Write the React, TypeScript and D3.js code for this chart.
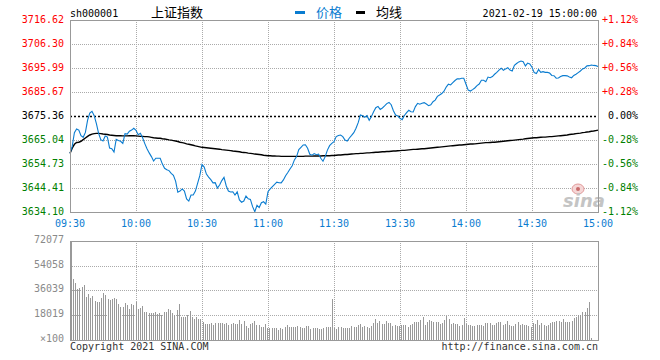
import * as d3 from 'd3';

// axis ticks
const priceTicks = [3716.62, 3706.3, 3695.99, 3685.67, 3675.36, 3665.04, 3654.73, 3644.41, 3634.1];
const pctTicks = ['+1.12%', '+0.84%', '+0.56%', '+0.28%', '0.00%', '-0.28%', '-0.56%', '-0.84%', '-1.12%'];
const timeLabels = ['09:30', '10:00', '10:30', '11:00', '11:30', '13:30', '14:00', '14:30', '15:00'];
const timeIndex = [0, 30, 60, 90, 120, 150, 180, 210, 240];
const volTickValues = [72077, 54058, 36039, 18019, 0];
const volTickLabels = ['72077', '54058', '36039', '18019', '×100'];
const prevClose = 3675.36;

// minute prices, 09:30 .. 11:30, 13:01 .. 15:00
const price = [
  3659.3, 3662.3, 3668.2, 3669.8, 3669.3, 3666.9, 3666.2, 3668.3, 3673.6, 3676.6,
  3677.4, 3675.5, 3672.1, 3667.9, 3665.2, 3664.6, 3666.8, 3666.3, 3661.6, 3661.3,
  3659.9, 3665.3, 3664.8, 3664.5, 3663.6, 3667.8, 3667.6, 3668.8, 3669.3, 3670.1,
  3669.2, 3667.3, 3667.9, 3666.0, 3663.5, 3661.3, 3659.5, 3657.9, 3656.0, 3657.2,
  3657.2, 3657.2, 3654.7, 3652.9, 3652.3, 3651.9, 3650.7, 3649.9, 3647.4, 3642.6,
  3643.1, 3644.0, 3643.1, 3639.7, 3638.8, 3641.4, 3641.4, 3643.1, 3646.4, 3649.7,
  3654.5, 3653.4, 3650.4, 3649.1, 3648.0, 3646.6, 3646.7, 3644.4, 3645.7, 3647.6,
  3649.0, 3645.4, 3643.1, 3642.7, 3642.8, 3641.4, 3642.8, 3639.3, 3638.3, 3638.8,
  3641.0, 3639.8, 3639.5, 3636.4, 3634.2, 3637.0, 3636.0, 3638.1, 3638.5, 3637.5,
  3642.8, 3644.0, 3645.0, 3646.0, 3646.9, 3646.7, 3646.6, 3647.9, 3649.7, 3651.1,
  3652.6, 3654.0, 3656.5, 3657.9, 3660.9, 3661.9, 3662.9, 3663.0, 3661.5, 3658.9,
  3658.5, 3659.2, 3658.7, 3659.0, 3657.2, 3655.9, 3657.9, 3660.7, 3662.6, 3663.6,
  3664.3, 3666.5, 3667.0, 3667.2, 3666.5, 3665.0, 3664.6, 3665.9, 3667.0, 3668.2,
  3670.1, 3672.5, 3675.8, 3675.5, 3674.8, 3675.5, 3673.5, 3675.1, 3677.2, 3678.9,
  3679.5, 3678.2, 3678.8, 3679.7, 3680.7, 3681.2, 3680.2, 3677.6, 3675.8, 3675.4,
  3674.4, 3673.8, 3675.6, 3676.8, 3677.8, 3677.2, 3677.1, 3679.4, 3680.8, 3680.4,
  3680.8, 3681.1, 3680.5, 3679.8, 3680.2, 3681.5, 3682.2, 3683.8, 3684.4, 3685.0,
  3686.0, 3687.8, 3689.0, 3688.7, 3689.7, 3690.6, 3691.3, 3691.3, 3691.6, 3691.6,
  3689.0, 3686.5, 3686.1, 3686.7, 3687.4, 3688.4, 3689.1, 3690.7, 3690.7, 3690.1,
  3692.1, 3691.8, 3692.3, 3693.3, 3694.1, 3695.1, 3695.9, 3695.0, 3695.6, 3696.1,
  3695.1, 3694.7, 3697.1, 3697.9, 3698.6, 3699.0, 3698.7, 3696.9, 3698.1, 3697.7,
  3696.3, 3694.0, 3693.6, 3695.3, 3694.1, 3694.4, 3694.1, 3694.1, 3693.8, 3692.8,
  3692.7, 3691.6, 3691.7, 3692.3, 3692.7, 3692.7, 3692.6, 3692.1, 3691.8, 3692.8,
  3693.3, 3694.0, 3694.7, 3695.6, 3696.0, 3696.9, 3697.0, 3697.3, 3697.1, 3697.0, 3696.6,
];

// average price line
const avgPrice = [
  3659.3, 3661.5, 3663.2, 3664.0, 3664.1, 3664.5, 3665.2, 3665.9, 3666.6, 3667.2,
  3667.6, 3667.8, 3667.9, 3667.9, 3667.8, 3667.6, 3667.5, 3667.4, 3667.2, 3667.1,
  3667.0, 3666.9, 3666.9, 3666.9, 3666.8, 3666.8, 3666.8, 3666.9, 3666.9, 3666.9,
  3666.8, 3666.7, 3666.6, 3666.6, 3666.5, 3666.5, 3666.4, 3666.2, 3666.0, 3665.9,
  3665.8, 3665.8, 3665.6, 3665.5, 3665.3, 3665.1, 3665.0, 3664.8, 3664.6, 3664.4,
  3664.1, 3663.9, 3663.7, 3663.4, 3663.2, 3663.0, 3662.8, 3662.5, 3662.3, 3662.1,
  3661.9, 3661.8, 3661.7, 3661.6, 3661.5, 3661.4, 3661.3, 3661.2, 3661.1, 3660.9,
  3660.8, 3660.7, 3660.6, 3660.5, 3660.3, 3660.2, 3660.1, 3660.0, 3659.8, 3659.7,
  3659.6, 3659.4, 3659.3, 3659.2, 3659.0, 3658.9, 3658.8, 3658.7, 3658.5, 3658.4,
  3658.3, 3658.3, 3658.2, 3658.2, 3658.1, 3658.1, 3658.0, 3658.0, 3658.0, 3658.0,
  3658.0, 3658.0, 3658.0, 3658.0, 3658.0, 3658.0, 3658.0, 3658.1, 3658.1, 3658.1,
  3658.1, 3658.2, 3658.2, 3658.2, 3658.2, 3658.3, 3658.3, 3658.3, 3658.3, 3658.4,
  3658.4, 3658.5, 3658.6, 3658.6, 3658.7, 3658.8, 3658.8, 3658.9, 3659.0, 3659.1,
  3659.2, 3659.2, 3659.3, 3659.3, 3659.4, 3659.5, 3659.5, 3659.6, 3659.7, 3659.8,
  3659.8, 3659.9, 3660.0, 3660.0, 3660.1, 3660.1, 3660.2, 3660.3, 3660.3, 3660.4,
  3660.5, 3660.6, 3660.6, 3660.7, 3660.8, 3660.9, 3661.0, 3661.0, 3661.1, 3661.2,
  3661.3, 3661.3, 3661.4, 3661.5, 3661.6, 3661.7, 3661.8, 3661.9, 3662.0, 3662.1,
  3662.2, 3662.3, 3662.4, 3662.5, 3662.6, 3662.7, 3662.8, 3662.9, 3662.9, 3663.0,
  3663.1, 3663.2, 3663.3, 3663.3, 3663.4, 3663.5, 3663.6, 3663.7, 3663.8, 3663.9,
  3663.9, 3664.0, 3664.1, 3664.1, 3664.2, 3664.3, 3664.4, 3664.5, 3664.6, 3664.7,
  3664.8, 3664.9, 3665.0, 3665.1, 3665.2, 3665.3, 3665.4, 3665.6, 3665.7, 3665.8,
  3665.9, 3666.0, 3666.0, 3666.1, 3666.2, 3666.3, 3666.3, 3666.4, 3666.5, 3666.5,
  3666.6, 3666.7, 3666.8, 3666.9, 3667.0, 3667.1, 3667.2, 3667.4, 3667.5, 3667.6,
  3667.8, 3667.9, 3668.0, 3668.2, 3668.3, 3668.5, 3668.6, 3668.8, 3668.9, 3669.1, 3669.3,
];

// minute volume (x100)
const volume = [
  44647, 41734, 37366, 37851, 38584, 40035, 31055, 33482, 30570, 32026,
  28628, 27658, 27658, 30570, 33968, 32512, 29842, 29356, 30084, 30570,
  29842, 26201, 24017, 24017, 26930, 25716, 22804, 26201, 25473, 27415,
  22804, 23289, 24745, 20375, 20375, 19406, 19406, 19648, 20375, 18920,
  19406, 18192, 20375, 20375, 22561, 21590, 19648, 17950, 21833, 26201,
  16493, 16493, 16493, 17950, 21105, 16979, 15523, 16493, 15523, 15523,
  13096, 11640, 11640, 11640, 12368, 10667, 12368, 12368, 12368, 12368,
  11640, 12368, 10667, 11640, 12368, 11640, 11640, 14552, 11640, 13824,
  10183, 8727, 11640, 12368, 13824, 10667, 10667, 9698, 9212, 11398,
  8727, 8727, 8727, 8727, 8727, 7271, 8727, 8242, 9698, 10667,
  9698, 9698, 9212, 9698, 10183, 9698, 8727, 8727, 10183, 10183,
  8242, 8727, 8727, 8727, 7756, 7756, 8727, 9698, 9212, 9698,
  29842,
  8727, 8242, 9455, 9455, 8727, 8727, 8727, 8727, 9940, 9455,
  9455, 10667, 11640, 9455, 10183, 9455, 8727, 9940, 12125, 15280,
  12368, 13581, 11640, 11640, 13581, 12368, 12368, 9940, 10667, 10183,
  10183, 10667, 10667, 10667, 9698, 10667, 11881, 12853, 13096, 13096,
  14552, 16736, 10667, 13096, 14552, 13581, 13096, 13096, 12853, 11640,
  12368, 14552, 17222, 15280, 11640, 12368, 11640, 11640, 10183, 10667,
  16008, 11640, 10667, 10667, 10183, 10183, 10667, 10667, 10667, 10183,
  12368, 12368, 12368, 10667, 10667, 12368, 12853, 13096, 10667, 11640,
  13581, 10667, 10183, 10183, 11640, 13096, 10667, 11640, 10667, 10667,
  10183, 9212, 12368, 11640, 14795, 10667, 12368, 10667, 10183, 10667,
  12368, 13096, 13096, 14066, 14066, 13096, 15280, 13096, 13096, 13096,
  14066, 16008, 16493, 17950, 17950, 20375, 20375, 23289, 27658, 1689,
];

const left = 70;
const right = 598;
const top = 20;
const bottom = 212;
const vTop = 241;
const vBottom = 340;

const BLUE = '#0a7cd0';
const GRID = '#aaaaaa';
const BORDER = '#999999';
const MONO = '"DejaVu Sans Mono", "Liberation Mono", monospace';
const CJK = '"Noto Sans CJK SC", "Noto Sans", sans-serif';

const px = (v: number) => Math.round(v) + 0.5;

export default function App() {
  const x = d3.scaleLinear().domain([0, 240]).range([left, right]);
  const y = d3.scaleLinear().domain([3634.1, 3716.62]).range([bottom, top]);
  const xv = d3.scaleLinear().domain([0, 240]).range([73, 591]);
  const yv = d3.scaleLinear().domain([0, 72077]).range([vBottom, vTop]);

  const line = d3.line<number>().x((_, i) => x(i)).y(d => y(d));

  const tickColor = (v: number) =>
    Math.abs(v - prevClose) < 0.005 ? '#000000' : v > prevClose ? '#ff0000' : '#008000';

  return (
    <svg width={660} height={360} style={{ position: 'absolute', left: 0, top: 0, background: '#fff' }}>
      {/* header */}
      <text x={70} y={17} fontFamily={MONO} fontSize={10} fill="#000">sh000001</text>
      <text x={151} y={17} fontFamily={CJK} fontSize={13} fill="#000">上证指数</text>
      <rect x={295} y={11} width={10} height={3} fill={BLUE} />
      <text x={316} y={17} fontFamily={CJK} fontSize={13} fill={BLUE}>价格</text>
      <rect x={356} y={11} width={9} height={3} fill="#000" />
      <text x={376} y={17} fontFamily={CJK} fontSize={13} fill="#000">均线</text>
      <text x={597} y={17} textAnchor="end" fontFamily={MONO} fontSize={10} fill="#000">2021-02-19 15:00:00</text>

      {/* price panel grid */}
      <g>
        {priceTicks.slice(1, -1).map(t =>
          Math.abs(t - prevClose) < 0.005 ? null : (
            <line key={t} x1={left} x2={right} y1={px(y(t))} y2={px(y(t))}
              stroke={GRID} strokeDasharray="1,1" />
          ))}
        {timeIndex.slice(1, -1).map(i => (
          <line key={i} x1={px(x(i))} x2={px(x(i))} y1={top} y2={bottom}
            stroke={GRID} strokeDasharray="1,1" />
        ))}
        <line x1={left} x2={right} y1={px(y(prevClose))} y2={px(y(prevClose))}
          stroke="#000" strokeWidth={1.4} strokeDasharray="2,2" />
      </g>

      {/* sina watermark */}
      <g>
        <ellipse cx={578} cy={189} rx={6} ry={5} fill="#f5d6d6" stroke="#e29a9a" />
        <circle cx={578} cy={189} r={2} fill="#c86a6a" />
        <text x={563} y={207} fontFamily='"DejaVu Sans", sans-serif' fontSize={18}
          fontStyle="italic" fontWeight="bold" fill="#c4c4c4">sina</text>
      </g>

      {/* lines */}
      <path d={line(avgPrice) ?? ''} fill="none" stroke="#000" strokeWidth={1.4} />
      <path d={line(price) ?? ''} fill="none" stroke={BLUE} strokeWidth={1.1} />

      <rect x={left + 0.5} y={top + 0.5} width={right - left} height={bottom - top}
        fill="none" stroke={BORDER} />

      {/* left price labels */}
      {priceTicks.map(t => (
        <text key={t} x={64} y={y(t)} dy="0.33em" textAnchor="end"
          fontFamily={MONO} fontSize={10} fill={tickColor(t)}>{t.toFixed(2)}</text>
      ))}
      {/* right percent labels */}
      {pctTicks.map((p, k) => (
        <text key={p} x={638} y={y(priceTicks[k])} dy="0.33em" textAnchor="end"
          fontFamily={MONO} fontSize={10} fill={tickColor(priceTicks[k])}>{p}</text>
      ))}
      {/* time labels */}
      {timeLabels.map((t, k) => (
        <text key={t} x={x(timeIndex[k])} y={227} textAnchor="middle"
          fontFamily={MONO} fontSize={10} fill={BLUE}>{t}</text>
      ))}

      {/* volume panel */}
      <g>
        {volTickValues.slice(1, -1).map(v => (
          <line key={v} x1={left} x2={right} y1={px(yv(v))} y2={px(yv(v))}
            stroke={GRID} strokeDasharray="1,1" />
        ))}
        {timeIndex.slice(1, -1).map(i => (
          <line key={i} x1={px(x(i))} x2={px(x(i))} y1={vTop} y2={vBottom}
            stroke={GRID} strokeDasharray="1,1" />
        ))}
        {volume.map((v, i) => (
          <rect key={i} x={Math.round(xv(i))} y={Math.round(yv(v))} width={1}
            height={vBottom - Math.round(yv(v))} fill="#999" />
        ))}
        <rect x={left + 0.5} y={vTop + 0.5} width={right - left} height={vBottom - vTop}
          fill="none" stroke={BORDER} />
        <rect x={left} y={vTop} width={2} height={vBottom - vTop} fill={BORDER} />
        {volTickValues.map((v, k) => (
          <text key={v} x={64} y={yv(v)} dy="0.2em" textAnchor="end"
            fontFamily={MONO} fontSize={10} fill="#8a8a8a">{volTickLabels[k]}</text>
        ))}
      </g>

      {/* footer */}
      <text x={70} y={350} fontFamily={MONO} fontSize={10} fill="#333">Copyright 2021 SINA.COM</text>
      <text x={598} y={350} textAnchor="end" fontFamily={MONO} fontSize={10} fill="#333">http://finance.sina.com.cn</text>
    </svg>
  );
}
